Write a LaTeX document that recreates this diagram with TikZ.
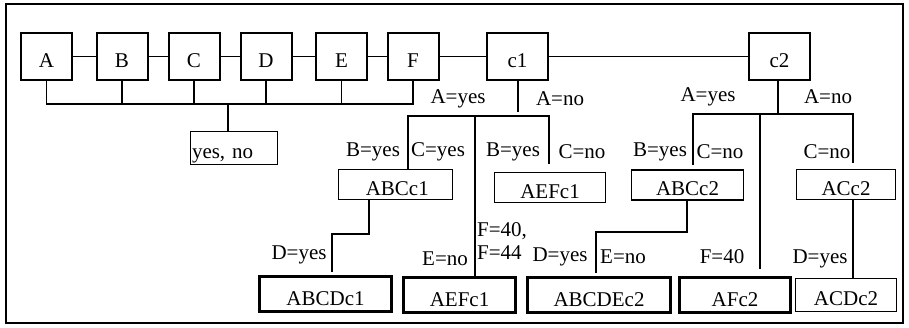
\documentclass[tikz,border=0pt]{standalone}
\usepackage{fontspec}
\setmainfont{Liberation Serif}
\usepackage{tikz}
\usetikzlibrary{positioning,calc}
\tikzset{
  catbox/.style={
    rectangle, draw=black, line width=2pt, inner sep=0pt,
    minimum width=51pt, minimum height=47pt, text height=22pt, text depth=0pt
  },
  leafbox/.style={
    rectangle, draw=black, line width=1pt, inner sep=0pt,
    minimum height=30pt, text height=21pt, text depth=0pt
  },
  finalbox/.style={
    rectangle, draw=black, line width=3pt, inner sep=0pt,
    minimum height=35pt, text height=23pt, text depth=0pt
  },
  treeLine/.style={draw=black, line width=1.8pt}
}

\begin{document}
\begin{tikzpicture}[x=1pt, y=-1pt,
          every node/.style={font=\fontsize{21}{23}\selectfont},
          cond/.style={inner sep=0pt}]
        \useasboundingbox (0,0) rectangle (909,327);
        \draw[line width=2pt] (6,4) rectangle (903,323);
        \node[catbox] (A)  at (46.5,56.5)  {A};
        \node[catbox] (B)  at (122,56.5)   {B};
        \node[catbox] (C)  at (194,56.5)   {C};
        \node[catbox] (D)  at (266,56.5)   {D};
        \node[catbox] (E)  at (341.5,56.5) {E};
        \node[catbox] (F)  at (413,56.5)   {F};
        \node[catbox, minimum width=61pt] (c1) at (517.5,56.5) {c1};
        \node[catbox, minimum width=61pt] (c2) at (779.5,56.5) {c2};
        \draw[treeLine] (A) -- (B);
        \draw[treeLine] (B) -- (C);
        \draw[treeLine] (C) -- (D);
        \draw[treeLine] (D) -- (E);
        \draw[treeLine] (E) -- (F);
        \draw[treeLine] (F) -- (c1);
        \draw[treeLine] (c1) -- (c2);
        \node[leafbox, minimum width=87pt, minimum height=33pt, text width=83pt,
              align=left] (yn) at (233.5,147.5) {yes, no};
        \coordinate (bar) at (228,104);
        \draw[treeLine] (A.south) -- (A.south |- bar) -- (F.south |- bar) -- (F.south);
        \draw[treeLine] (B.south) -- (B.south |- bar);
        \draw[treeLine] (C.south) -- (C.south |- bar);
        \draw[treeLine] (D.south) -- (D.south |- bar);
        \draw[treeLine] (E.south) -- (E.south |- bar);
        \draw[treeLine] (bar) -- (yn.north -| bar);
        \node[leafbox, minimum width=114pt] (ABCc1)  at (395.5,184.5) {\,ABCc1};
        \node[leafbox, minimum width=111pt] (AEFc1a) at (550,187.5)   {AEFc1};
        \node[leafbox, line width=1.6pt, minimum width=112pt] (ABCc2) at (687.5,185) {ABCc2};
        \node[leafbox, minimum width=99pt]  (ACc2)   at (846,184.5)   {ACc2};
        \node[finalbox, minimum width=132pt] (ABCDc1)  at (325.5,293.5) {ABCDc1};
        \node[finalbox, minimum width=112pt] (AEFc1b)  at (459.5,295)   {AEFc1};
        \node[finalbox, minimum width=143pt] (ABCDEc2) at (599,294.5)   {ABCDEc2};
        \node[finalbox, minimum width=111pt] (AFc2)    at (735,295)     {AFc2};
        \node[leafbox, minimum width=101pt, minimum height=33pt] (ACDc2) at (846,295) {ACDc2};
        \coordinate (c1s) at (518,112);
        \coordinate (c1L) at (408,116);
        \coordinate (c1M) at (475,116);
        \coordinate (c1R) at (549,116);
        \coordinate (c1Re) at (549,164);
        \draw[treeLine] (c1.south -| c1s) -- (c1s);
        \draw[treeLine] (ABCc1.north -| c1L) -- (c1L) -- (c1R) -- (c1Re);
        \draw[treeLine] (c1M) -- (AEFc1b.north -| c1M);
        \coordinate (s1) at (369,234);
        \coordinate (s1b) at (332,234);
        \draw[treeLine] (ABCc1.south -| s1) -- (s1) -- (s1b) -- ($(ABCDc1.north -| s1b)+(0,-3)$);
        \coordinate (c2s) at (778,113);
        \coordinate (c2L) at (693,114);
        \coordinate (c2M) at (760,114);
        \coordinate (c2R) at (853,114);
        \draw[treeLine] (c2.south -| c2s) -- (c2s);
        \draw[treeLine] ($(ABCc2.north -| c2L)+(0,-4)$) -- (c2L) -- (c2R) -- ($(ACc2.north -| c2R)+(0,-6)$);
        \draw[treeLine] (c2M) -- ($(AFc2.north -| c2M)+(0,-7)$);
        \coordinate (s2) at (687,232);
        \coordinate (s2b) at (596,232);
        \draw[treeLine] (ABCc2.south -| s2) -- (s2) -- (s2b) -- ($(ABCDEc2.north -| s2b)+(0,-3)$);
        \coordinate (s3) at (853,200);
        \draw[treeLine] (ACc2.south -| s3) -- (ACDc2.north -| s3);
        \node[cond] (l1)  at (458,99)  {A=yes};
        \node[cond] (l2)  at (560,99)  {A=no};
        \node[cond] (l3)  at (373,152) {B=yes};
        \node[cond] (l4)  at (438,152) {C=yes};
        \node[cond] (l5)  at (513,152) {B=yes};
        \node[cond] (l6)  at (582,152) {C=no};
        \node[cond] (l7)  at (708,97)  {A=yes};
        \node[cond] (l8)  at (828,97)  {A=no};
        \node[cond] (l9)  at (660,152) {B=yes};
        \node[cond] (l10) at (720,152) {C=no};
        \node[cond] (l11) at (827,152) {C=no};
        \node[cond] (l12) at (299,255) {D=yes};
        \node[cond] (l13) at (445,259) {E=no};
        \node[cond, anchor=west, align=left] (l14) at (477,241.5) {F=40,\\F=44};
        \node[cond] (l15) at (560,257) {D=yes};
        \node[cond] (l16) at (623,257) {E=no};
        \node[cond] (l17) at (722,257) {F=40};
        \node[cond] (l18) at (820,259) {D=yes};
      \end{tikzpicture}
\end{document}
